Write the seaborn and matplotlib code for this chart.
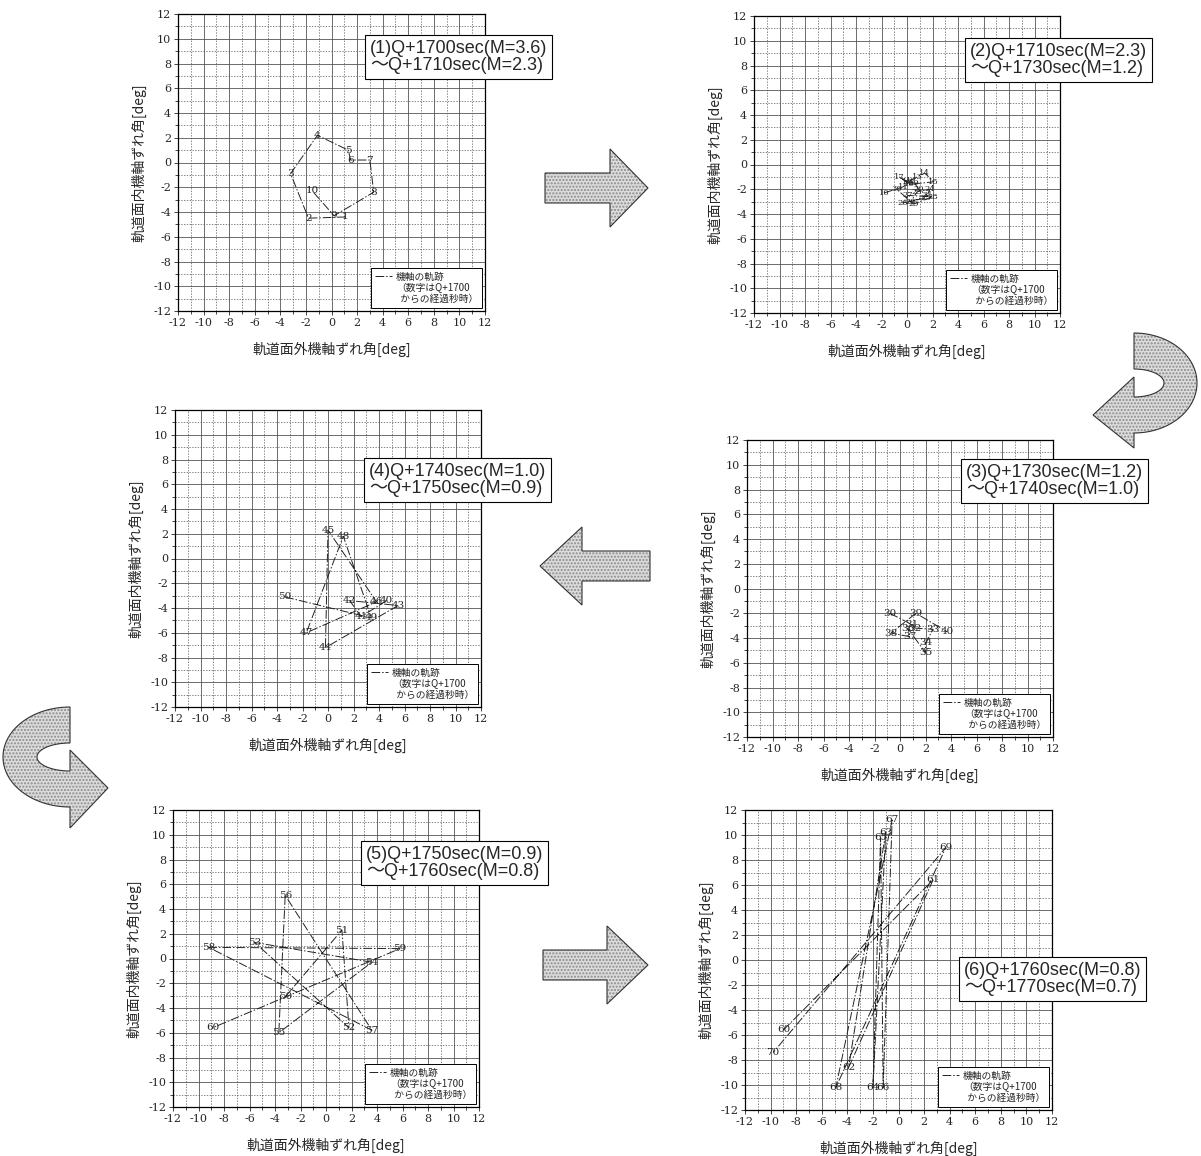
#!/usr/bin/env python3

import matplotlib.pyplot as plt
import numpy as np
import pandas as pd
import seaborn as sns
from matplotlib.lines import Line2D
from matplotlib.patches import Polygon

# Data: seconds after Q+1700 and the axis-offset angles (deg) per panel
p1_sec = [1, 2, 3, 4, 5, 6, 7, 8, 9, 10]
p1_x = [1.1, -1.8, -3.2, -1.1, 1.3, 1.5, 3.0, 3.3, 0.2, -1.5]
p1_y = [-4.4, -4.5, -0.9, 2.2, 1.0, 0.2, 0.2, -2.4, -4.3, -2.3]

p2_sec = list(range(10, 31))
p2_x = [-1.8, -0.3, 0.3, 0.8, 1.4, 2.1, 0.2, -0.6, 0.0, 0.6, 0.9,
        1.6, 0.3, 0.8, 1.8, 1.5, -0.3, 0.1, 2.0, 0.5, -0.8]
p2_y = [-2.3, -1.8, -1.3, -1.0, -0.7, -1.4, -1.6, -1.0, -1.4, -1.5, -2.0,
        -2.5, -3.0, -2.2, -2.0, -2.7, -3.1, -2.5, -2.6, -3.2, -2.0]

p3_sec = list(range(30, 41))
p3_x = [-0.8, 0.9, 1.2, 2.6, 2.0, 2.0, 0.6, 0.8, -0.7, 1.25, 3.7]
p3_y = [-2.0, -2.9, -3.2, -3.3, -4.4, -5.2, -3.2, -3.9, -3.6, -2.0, -3.5]

p4_sec = list(range(40, 51))
p4_x = [4.6, 2.6, 1.7, 5.5, -0.2, 0.0, 3.8, -1.7, 1.2, 3.4, -3.4]
p4_y = [-3.4, -4.7, -3.4, -3.8, -7.2, 2.3, -3.5, -6.0, 1.8, -4.8, -3.1]

p5_sec = list(range(50, 61))
p5_x = [-3.2, 1.25, 1.8, -5.6, 3.6, -3.7, -3.2, 3.6, -9.2, 5.8, -8.9]
p5_y = [-3.1, 2.3, -5.6, 1.3, -0.3, -6.0, 5.1, -5.8, 0.9, 0.8, -5.6]

p6_sec = list(range(60, 71))
p6_x = [-9.0, 2.7, -3.9, -1.0, -2.0, -1.4, -1.2, -0.5, -4.9, 3.7, -9.8]
p6_y = [-5.6, 6.4, -8.6, 10.2, -10.2, 9.8, -10.2, 11.2, -10.2, 9.0, -7.4]

titles = [
    "(1)Q+1700sec(M=3.6)\n～Q+1710sec(M=2.3)",
    "(2)Q+1710sec(M=2.3)\n～Q+1730sec(M=1.2)",
    "(3)Q+1730sec(M=1.2)\n～Q+1740sec(M=1.0)",
    "(4)Q+1740sec(M=1.0)\n～Q+1750sec(M=0.9)",
    "(5)Q+1750sec(M=0.9)\n～Q+1760sec(M=0.8)",
    "(6)Q+1760sec(M=0.8)\n～Q+1770sec(M=0.7)",
]

W, H = 1201, 1156

sns.set_theme(style="ticks")
plt.rcParams["font.family"] = ["Noto Sans CJK JP", "DejaVu Sans"]
plt.rcParams["axes.unicode_minus"] = False

fig = plt.figure(figsize=(W / 100, H / 100), dpi=100)


def px_rect(l, r, t, b):
    return [l / W, 1 - b / H, (r - l) / W, (b - t) / H]


def px(x, y):
    return (x / W, 1 - y / H)


# axes boxes in pixels (left, right, top, bottom)
boxes = [
    (178, 485, 14, 311),
    (754, 1060, 16, 313),
    (747, 1053, 440, 737),
    (175, 481, 410, 707),
    (173, 479, 810, 1107),
    (745, 1052, 810, 1110),
]
# top-left corner of the caption box in pixels
title_pos = [(370, 40), (970, 43), (966, 464), (369, 463), (366, 846), (964, 962)]

panels = [
    (p1_sec, p1_x, p1_y), (p2_sec, p2_x, p2_y), (p3_sec, p3_x, p3_y),
    (p4_sec, p4_x, p4_y), (p5_sec, p5_x, p5_y), (p6_sec, p6_x, p6_y),
]

traj_ls = (0, (9, 2, 1.5, 2))

for i, (sec, xs, ys) in enumerate(panels):
    ax = fig.add_axes(px_rect(*boxes[i]))
    df = pd.DataFrame({"sec": sec, "x": xs, "y": ys})
    sns.lineplot(data=df, x="x", y="y", sort=False, estimator=None,
                 color="#222222", lw=0.7, linestyle=traj_ls, ax=ax)
    # the 10-30 s cluster is very tight, so its labels are a bit smaller
    fs = 6 if i == 1 else 7.5
    for s, x, y in zip(df["sec"], df["x"], df["y"]):
        ax.text(x, y, str(s), ha="center", va="center", fontsize=fs,
                family="DejaVu Serif", color="#222222")

    ax.set(xlim=(-12, 12), ylim=(-12, 12),
           xticks=np.arange(-12, 13, 2), yticks=np.arange(-12, 13, 2))
    ax.set_xticks(np.arange(-12, 13, 1), minor=True)
    ax.set_yticks(np.arange(-12, 13, 1), minor=True)
    ax.grid(which="major", color="#555555", lw=0.6)
    ax.grid(which="minor", color="#555555", lw=0.5, ls=(0, (2, 2)))
    ax.tick_params(which="both", direction="out", length=3, width=0.6,
                   labelsize=8, labelfontfamily="DejaVu Serif", pad=2)
    ax.tick_params(which="minor", length=2)
    for sp in ax.spines.values():
        sp.set_color("black")
        sp.set_linewidth(0.9)
    ax.set_xlabel("軌道面外機軸ずれ角[deg]", fontsize=10, labelpad=10)
    ax.set_ylabel("軌道面内機軸ずれ角[deg]", fontsize=10, labelpad=5)

    handles = [Line2D([], [], color="#222222", lw=0.7, ls=traj_ls),
               Line2D([], [], color="none")]
    labels = ["機軸の軌跡", "（数字はQ+1700\n  からの経過秒時）"]
    leg = ax.legend(handles, labels, loc="lower right", fontsize=7,
                    frameon=True, fancybox=False, edgecolor="black",
                    framealpha=1, handlelength=1.8, handletextpad=0.4,
                    labelspacing=0.1, borderaxespad=0.3, borderpad=0.4)
    leg.get_frame().set_linewidth(0.7)

    tx, ty = title_pos[i]
    fig.text(*px(tx, ty), titles[i], ha="left", va="top", fontsize=13,
             family=["Liberation Sans", "Noto Sans CJK JP"], linespacing=1.0,
             bbox=dict(boxstyle="square,pad=0.25", fc="white", ec="black",
                       lw=0.8))


# block arrows between panels
def add_shape(verts):
    pts = [px(x, y) for x, y in verts]
    fig.add_artist(Polygon(pts, closed=True, transform=fig.transFigure,
                           fc="#dcdcdc", ec="#8a8a8a", lw=0, hatch="....."))
    fig.add_artist(Polygon(pts, closed=True, transform=fig.transFigure,
                           fc="none", ec="#333333", lw=0.8))


def straight_arrow(x0, xb, xt, yc, bh, hh):
    return [(x0, yc - bh / 2), (xb, yc - bh / 2), (xb, yc - hh / 2),
            (xt, yc), (xb, yc + hh / 2), (xb, yc + bh / 2),
            (x0, yc + bh / 2)]


def curved_arrow(cx, cy, ao, bo, ai, bi, t0, t1, head, tip):
    t = np.radians(np.linspace(t0, t1, 60))
    outer = [(cx + ao * np.cos(a), cy - bo * np.sin(a)) for a in t]
    inner = [(cx + ai * np.cos(a), cy - bi * np.sin(a)) for a in t[::-1]]
    return outer + [head[0], tip, head[1]] + inner


add_shape(straight_arrow(545, 610, 648, 188, 30, 78))
add_shape(straight_arrow(650, 582, 540, 566, 30, 78))
add_shape(straight_arrow(543, 607, 648, 965, 30, 78))
add_shape(curved_arrow(1134, 383, 63, 50, 30, 14, 90, -90,
                       [(1134, 448), (1134, 377)], (1093, 415)))
add_shape(curved_arrow(70, 757, 67, 50, 33, 14, 90, 270,
                       [(70, 828), (70, 750)], (108, 788)))

fig.savefig("out.png", dpi=100)
